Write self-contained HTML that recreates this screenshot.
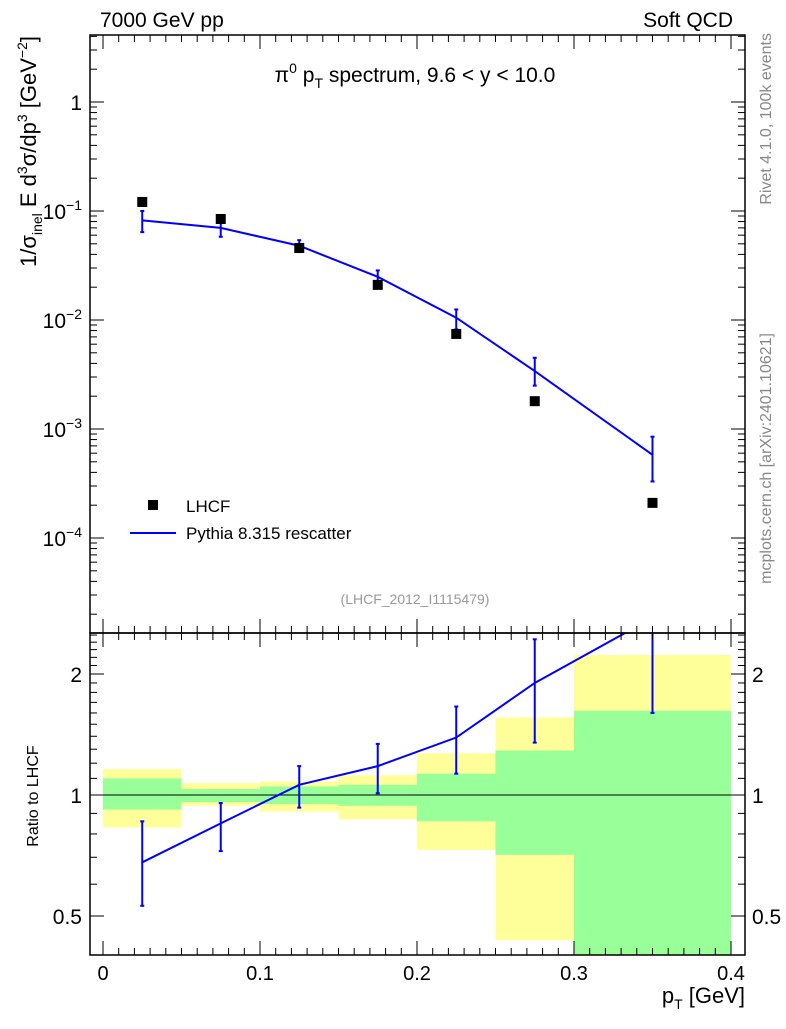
<!DOCTYPE html>
<html><head><meta charset="utf-8"><style>
body{margin:0;background:#fff;font-family:"Liberation Sans",sans-serif}
svg text{font-family:"Liberation Sans",sans-serif}
</style></head><body>
<svg id="c" width="786" height="1024" xmlns="http://www.w3.org/2000/svg"></svg>
<script>
const xBins=[0,0.05,0.1,0.15,0.2,0.25,0.3,0.4];
const xPts=[0.025,0.075,0.125,0.175,0.225,0.275,0.35];
const dataVals=[0.121,0.0845,0.0458,0.021,0.00745,0.0018,0.00021];
const mcVals=[0.082,0.070,0.048,0.0249,0.0105,0.0034,0.00058];
const mcHi=[0.1,0.078,0.054,0.0285,0.0125,0.0045,0.00085];
const mcLo=[0.064,0.058,0.042,0.021,0.0082,0.0025,0.00033];
const ratioVals=[0.68,0.85,1.06,1.18,1.39,1.90,2.76];
const ratioHi=[0.86,0.955,1.18,1.34,1.66,2.44,4.0];
const ratioLo=[0.53,0.725,0.93,1.01,1.13,1.35,1.6];
const yelHi=[1.16,1.07,1.08,1.12,1.27,1.56,2.23];
const yelLo=[0.83,0.94,0.91,0.87,0.73,0.435,0.3];
const grnHi=[1.10,1.035,1.05,1.06,1.13,1.29,1.62];
const grnLo=[0.92,0.96,0.95,0.94,0.86,0.71,0.3];
const xTicks=[0,0.1,0.2,0.3,0.4];
const xTickLabels=["0","0.1","0.2","0.3","0.4"];
const yDecades=[0,-1,-2,-3,-4];
const rTicks=[0.5,1,2];

const NS="http://www.w3.org/2000/svg",svg=document.getElementById('c');
function mk(t,a,p){const e=document.createElementNS(NS,t);for(const k in a)e.setAttribute(k,a[k]);(p||svg).appendChild(e);return e;}
const L=90,R=745,T=35,M=633,B=955;
const X=v=>103+(v-0)*1570;
const Y=v=>102-Math.log10(v)*109;
const RY=v=>795-Math.log2(v)*121;
const defs=mk('defs',{});
const c1=mk('clipPath',{id:'ct'},defs);mk('rect',{x:L,y:T,width:R-L,height:M-T},c1);
const c2=mk('clipPath',{id:'cb'},defs);mk('rect',{x:L,y:M,width:R-L,height:B-M},c2);
const gTop=mk('g',{'clip-path':'url(#ct)'});


const gBot=mk('g',{'clip-path':'url(#cb)'});


for(let i=0;i<7;i++){
 let r=mk('rect',{x:X(xBins[i]),y:RY(yelHi[i]),width:X(xBins[i+1])-X(xBins[i]),height:RY(yelLo[i])-RY(yelHi[i]),fill:'#ffff99'},gBot);
 
 
 let g=mk('rect',{x:X(xBins[i]),y:RY(grnHi[i]),width:X(xBins[i+1])-X(xBins[i]),height:RY(grnLo[i])-RY(grnHi[i]),fill:'#99ff99'},gBot);
 
 
}
mk('line',{x1:L,x2:R,y1:RY(1),y2:RY(1),stroke:'#000','stroke-width':1},gBot);
let rl=mk('polyline',{points:xPts.map((x,i)=>X(x)+','+RY(ratioVals[i])).join(' '),fill:'none',stroke:'#0000ff','stroke-width':2},gBot);


xPts.forEach((x,i)=>{mk('line',{x1:X(x),x2:X(x),y1:RY(ratioHi[i]),y2:RY(ratioLo[i]),stroke:'#0000ff','stroke-width':2},gBot);
 [ratioHi[i],ratioLo[i]].forEach(v=>mk('line',{x1:X(x)-2,x2:X(x)+2,y1:RY(v),y2:RY(v),stroke:'#0000ff','stroke-width':2},gBot));});
let ml=mk('polyline',{points:xPts.map((x,i)=>X(x)+','+Y(mcVals[i])).join(' '),fill:'none',stroke:'#0000ff','stroke-width':2},gTop);


xPts.forEach((x,i)=>{mk('line',{x1:X(x),x2:X(x),y1:Y(mcHi[i]),y2:Y(mcLo[i]),stroke:'#0000ff','stroke-width':2},gTop);
 [mcHi[i],mcLo[i]].forEach(v=>mk('line',{x1:X(x)-2,x2:X(x)+2,y1:Y(v),y2:Y(v),stroke:'#0000ff','stroke-width':2},gTop));
 let p=mk('rect',{x:X(x)-5,y:Y(dataVals[i])-5,width:10,height:10,fill:'#000'},gTop);
 
 });
mk('rect',{x:L,y:T,width:R-L,height:M-T,fill:'none',stroke:'#000','stroke-width':1.5});
mk('rect',{x:L,y:M,width:R-L,height:B-M,fill:'none',stroke:'#000','stroke-width':1.5});
for(let k=0;k<=40;k++){const v=k/100;const big=k%10==0;const h=big?14:7;const x=X(v);
 [[T,1],[M,-1],[M,1],[B,-1]].forEach(([y,d])=>mk('line',{x1:x,x2:x,y1:y,y2:y+d*h,stroke:'#000'}));}
xTicks.forEach((v,i)=>{const t=mk('text',{x:X(v),y:980,'font-size':20,'text-anchor':'middle'});t.textContent=xTickLabels[i];});
for(let d=-5;d<1;d++)for(let m=1;m<10;m++){const v=m*Math.pow(10,d);const y=Y(v);if(y<T||y>M)continue;const h=m==1?14:7;
 mk('line',{x1:L,x2:L+h,y1:y,y2:y,stroke:'#000'});mk('line',{x1:R,x2:R-h,y1:y,y2:y,stroke:'#000'});}
yDecades.forEach(d=>{const t=mk('text',{x:82,y:Y(Math.pow(10,d))+8,'font-size':21,'text-anchor':'end'});
 if(d==0)t.textContent='1';else{t.innerHTML='10<tspan dy="-9" font-size="14">'+String(d).replace('-','−')+'</tspan>';}});
for(let k=3;k<=25;k++){const v=k/10;const y=RY(v);if(y<M||y>B)continue;const big=(k==5||k==10||k==20);const h=big?14:7;
 mk('line',{x1:L,x2:L+h,y1:y,y2:y,stroke:'#000'});mk('line',{x1:R,x2:R-h,y1:y,y2:y,stroke:'#000'});}
rTicks.forEach(v=>{let t=mk('text',{x:82,y:RY(v)+8,'font-size':21,'text-anchor':'end'});t.textContent=String(v);
 t=mk('text',{x:752,y:RY(v)+8,'font-size':21});t.textContent=String(v);});
function txt(x,y,s,a,html){const t=mk('text',Object.assign({x,y},a));if(html)t.innerHTML=s;else t.textContent=s;return t;}
txt(100,27,'7000 GeV pp',{'font-size':21});
txt(733,27,'Soft QCD',{'font-size':21,'text-anchor':'end'});
txt(415,82,'π<tspan dy="-9" font-size="14">0</tspan><tspan dy="9"> p</tspan><tspan dy="6" font-size="14">T</tspan><tspan dy="-6"> spectrum, 9.6 &lt; y &lt; 10.0</tspan>',{'font-size':21,'text-anchor':'middle'},true);
mk('rect',{x:148,y:500,width:10,height:10,fill:'#000'});
txt(186,512,'LHCF',{'font-size':17});
mk('line',{x1:130,x2:176,y1:533,y2:533,stroke:'#0000ff','stroke-width':2});
txt(186,539,'Pythia 8.315 rescatter',{'font-size':17});
txt(415,604,'(LHCF_2012_I1115479)',{'font-size':14,fill:'#999','text-anchor':'middle'});
txt(745,1003,'p<tspan dy="6" font-size="14">T</tspan><tspan dy="-6"> [GeV]</tspan>',{'font-size':22,'text-anchor':'end'},true);
txt(0,0,'1/σ<tspan dy="6" font-size="14">inel</tspan><tspan dy="-6"> E d</tspan><tspan dy="-9" font-size="14">3</tspan><tspan dy="9">σ/dp</tspan><tspan dy="-9" font-size="14">3</tspan><tspan dy="9"> [GeV</tspan><tspan dy="-9" font-size="14">−2</tspan><tspan dy="9">]</tspan>',{'font-size':22,'text-anchor':'end',transform:'translate(36,36) rotate(-90)'},true);
txt(0,0,'Ratio to LHCF',{'font-size':16,'text-anchor':'middle',transform:'translate(38,796) rotate(-90)'});
txt(0,0,'Rivet 4.1.0,  100k events',{'font-size':16,fill:'#888','text-anchor':'end',transform:'translate(771,33) rotate(-90)'});
txt(0,0,'mcplots.cern.ch [arXiv:2401.10621]',{'font-size':16,fill:'#888','text-anchor':'end',transform:'translate(771,333) rotate(-90)'});
</script>
</body></html>
